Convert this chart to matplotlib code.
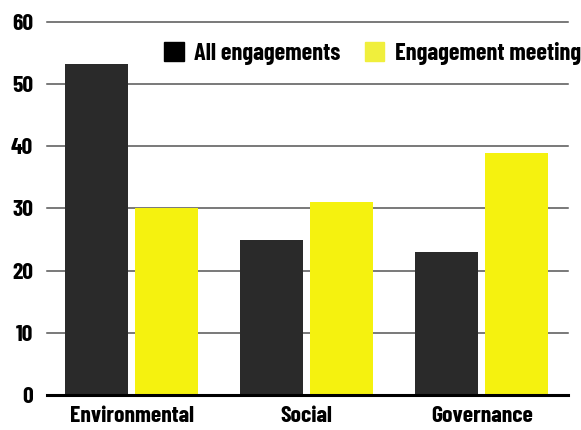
import matplotlib.pyplot as plt
from matplotlib import font_manager
from matplotlib.patches import Patch
import numpy as np

# values
categories = ["Environmental", "Social", "Governance"]
all_engagements = [53.3, 25, 23]
engagement_meeting = [30, 31, 39]
series_names = ["All engagements", "Engagement meeting"]
y_ticks = [0, 10, 20, 30, 40, 50, 60]

names = {f.name for f in font_manager.fontManager.ttflist}
family = "Barlow Condensed" if "Barlow Condensed" in names else "DejaVu Sans"
plt.rcParams['font.family'] = [family, 'DejaVu Sans']
plt.rcParams['font.weight'] = 'bold'

dark = "#2a2a2a"
yellow = "#f5f20f"

fig = plt.figure(figsize=(5.81, 4.30), dpi=100)
ax = fig.add_axes([0.081, 0.0814, 0.897, 0.8675])

x = np.arange(len(categories))
ax.bar(x - 0.2, all_engagements, width=0.36, color=dark, zorder=3)
ax.bar(x + 0.2, engagement_meeting, width=0.36, color=yellow, zorder=3)

ax.set_xlim(-0.483, 2.494)
ax.set_ylim(0, 60)
ax.set_yticks(y_ticks)
for t in y_ticks[1:]:
    ax.axhline(t, color="#555555", linewidth=1.1, zorder=1, clip_on=False)
ax.axhline(0, color="black", linewidth=2.2, zorder=4, clip_on=False)

for s in ax.spines.values():
    s.set_visible(False)
ax.tick_params(axis="both", length=0, labelsize=17)
ax.tick_params(axis="y", pad=10)
ax.tick_params(axis="x", pad=8)
ax.set_xticks(x)
ax.set_xticklabels(categories)

handles = [Patch(color="black"), Patch(color="#f0ef3c")]
leg = ax.legend(handles, series_names, loc="center left",
                bbox_to_anchor=(0.2246, 0.915), ncol=2, frameon=False,
                fontsize=17.5, handlelength=0.8, handleheight=0.8,
                handletextpad=0.45, columnspacing=1.0, borderaxespad=0,
                borderpad=0)

fig.savefig("out.png", dpi=100)
